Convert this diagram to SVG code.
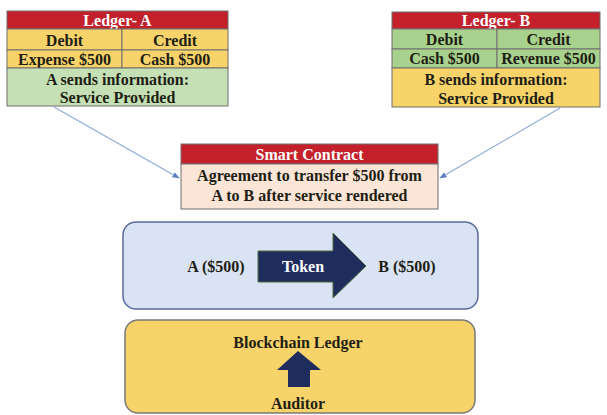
<svg xmlns="http://www.w3.org/2000/svg" width="607" height="415" viewBox="0 0 607 415">
  <style>
    text { font-family: "Liberation Serif", "Times New Roman", serif; font-weight: bold; text-anchor: middle; dominant-baseline: central; fill: #1e1e14; }
    .hdr { fill: #c3202c; stroke: #6e6e6e; stroke-width: 1; }
    .yel { fill: #f7d36a; stroke: #6e6e6e; stroke-width: 1; }
    .grn { fill: #a9d18e; stroke: #6e6e6e; stroke-width: 1; }
    .lgrn { fill: #c5e0b4; stroke: #6e6e6e; stroke-width: 1; }
    .white { fill: #ffffff; }
    .t13 { font-size: 16px; }
    .conn { stroke: #8fa9d6; stroke-width: 1.2; fill: none; }
  </style>
  <defs>
    <marker id="ah" viewBox="0 0 10 10" refX="9" refY="5" markerWidth="6" markerHeight="6" orient="auto">
      <path d="M0,1 L10,5 L0,9 z" fill="#5b7fc0"/>
    </marker>
  </defs>
  <rect width="607" height="415" fill="#ffffff"/>

  <g id="connectors">
    <line class="conn" x1="54" y1="107" x2="179" y2="178" marker-end="url(#ah)"/>
    <line class="conn" x1="560" y1="108" x2="440" y2="178" marker-end="url(#ah)"/>
  </g>

  <g id="ledger-a">
    <rect class="hdr" x="7" y="11" width="221" height="18"/>
    <text class="t13 white" x="117.5" y="20.5">Ledger- A</text>
    <rect class="yel" x="7" y="29" width="115" height="21"/>
    <rect class="yel" x="122" y="29" width="106" height="21"/>
    <text class="t13" x="64.5" y="40">Debit</text>
    <text class="t13" x="175" y="40">Credit</text>
    <rect class="yel" x="7" y="50" width="115" height="18"/>
    <rect class="yel" x="122" y="50" width="106" height="18"/>
    <text class="t13" x="64.5" y="59.5">Expense $500</text>
    <text class="t13" x="175" y="59.5">Cash $500</text>
    <rect class="lgrn" x="7" y="68" width="221" height="38"/>
    <text class="t13" x="117.5" y="79">A sends information:</text>
    <text class="t13" x="117.5" y="97">Service Provided</text>
  </g>

  <g id="ledger-b">
    <rect class="hdr" x="392" y="12" width="208" height="17"/>
    <text class="t13 white" x="496" y="20.5">Ledger- B</text>
    <rect class="grn" x="392" y="29" width="105" height="20"/>
    <rect class="grn" x="497" y="29" width="103" height="20"/>
    <text class="t13" x="444.5" y="39">Debit</text>
    <text class="t13" x="548.5" y="39">Credit</text>
    <rect class="grn" x="392" y="49" width="105" height="19"/>
    <rect class="grn" x="497" y="49" width="103" height="19"/>
    <text class="t13" x="444.5" y="58.5">Cash $500</text>
    <text class="t13" x="548.5" y="58.5">Revenue $500</text>
    <rect class="yel" x="392" y="68" width="208" height="39"/>
    <text class="t13" x="496" y="79">B sends information:</text>
    <text class="t13" x="496" y="98">Service Provided</text>
  </g>

  <g id="smart-contract">
    <rect class="hdr" x="181" y="144" width="257" height="20"/>
    <text class="t13 white" x="309.5" y="154">Smart Contract</text>
    <rect x="181" y="164" width="257" height="45" fill="#fbe5d6" stroke="#6e6e6e" stroke-width="1"/>
    <text class="t13" x="309.5" y="175">Agreement to transfer $500 from</text>
    <text class="t13" x="309.5" y="195">A to B after service rendered</text>
  </g>

  <g id="token-transfer">
    <rect x="123" y="222" width="355" height="87" rx="13" ry="13" fill="#dae3f3" stroke="#5a6a9c" stroke-width="1.5"/>
    <text class="t13" x="216" y="266">A ($500)</text>
    <path d="M258,251 L333,251 L333,233 L366,266 L333,298 L333,282 L258,282 Z" fill="#1f2c5e" stroke="#4f6a3a" stroke-width="1"/>
    <text class="t13 white" x="303" y="266.5">Token</text>
    <text class="t13" x="407" y="266">B ($500)</text>
  </g>

  <g id="blockchain-ledger">
    <rect x="125" y="320" width="350" height="93" rx="13" ry="13" fill="#f7d36a" stroke="#7a7a7a" stroke-width="1.5"/>
    <text class="t13" x="298" y="342">Blockchain Ledger</text>
    <path d="M298,351 L321,370 L310,370 L310,387 L288,387 L288,370 L277,370 Z" fill="#1f2c5e"/>
    <text class="t13" x="298" y="403">Auditor</text>
  </g>
</svg>
